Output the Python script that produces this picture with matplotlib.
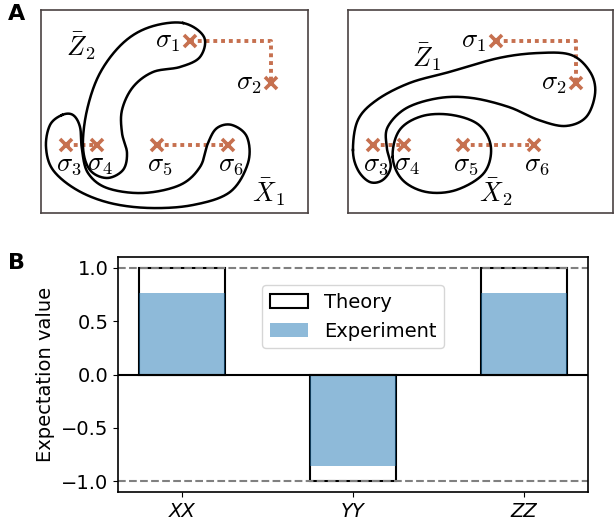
import numpy as np
import matplotlib.pyplot as plt

plt.rcParams['mathtext.fontset'] = 'cm'
plt.rcParams['font.size'] = 14

# panel B data
labels = ['XX', 'YY', 'ZZ']
theory = [1.0, -1.0, 1.0]
experiment = [0.765, -0.855, 0.765]

# panel A: qubit sites (box pixel coords, y down)
site_x = [149, 230, 25, 56, 116, 187]
site_y = [31, 73, 135, 135, 135, 135]
site_names = [r'$\sigma_1$', r'$\sigma_2$', r'$\sigma_3$',
              r'$\sigma_4$', r'$\sigma_5$', r'$\sigma_6$']

# loop outlines (control points of closed splines)
z2_loop = np.array([(142, 13), (163, 27), (159, 47), (139, 57), (112, 62),
                    (92, 77), (81, 100), (81, 123), (86, 143), (82, 160),
                    (66, 168), (49, 160), (42, 137), (46, 100), (59, 63),
                    (82, 33), (109, 17)])
x1_loop = np.array([(21, 105), (9, 115), (5, 137), (12, 160), (36, 180),
                    (69, 193), (109, 198), (152, 195), (189, 182),
                    (207, 153), (206, 127), (191, 115), (176, 118),
                    (167, 133), (159, 157), (139, 175), (102, 183),
                    (66, 178), (47, 163), (41, 140), (39, 117), (32, 105)])
z1_loop = np.array([(5, 140), (10, 110), (29, 90), (62, 73), (102, 62),
                    (152, 48), (192, 43), (225, 45), (244, 62), (249, 83),
                    (240, 107), (219, 116), (192, 110), (162, 97), (125, 88),
                    (92, 88), (59, 98), (40, 117), (39, 137), (43, 157),
                    (35, 170), (22, 172), (10, 160)])
x2_loop = np.array([(45, 147), (52, 120), (75, 106), (105, 105), (132, 115),
                    (144, 137), (137, 163), (109, 180), (79, 182), (55, 170)])

site_color = '#c6704f'
box_color = '#4a4242'


def closed_spline(pts, n=30):
    # periodic Catmull-Rom
    out = []
    m = len(pts)
    t = np.linspace(0, 1, n, endpoint=False)[:, None]
    for i in range(m):
        p0, p1, p2, p3 = pts[i-1], pts[i], pts[(i+1) % m], pts[(i+2) % m]
        seg = 0.5*((2*p1) + (-p0+p2)*t + (2*p0-5*p1+4*p2-p3)*t**2
                   + (-p0+3*p1-3*p2+p3)*t**3)
        out.append(seg)
    out = np.vstack(out)
    return np.vstack([out, out[:1]])


def draw_box(ax, loops, loop_labels):
    ax.set_xlim(0, 267)
    ax.set_ylim(203, 0)
    ax.set_xticks([])
    ax.set_yticks([])
    for s in ax.spines.values():
        s.set_color(box_color)
        s.set_linewidth(1.2)
    # dotted couplings
    ax.plot([site_x[0], site_x[1], site_x[1]],
            [site_y[0], site_y[0], site_y[1]],
            ls=(0, (1, 1)), lw=2.8, color=site_color, zorder=1)
    ax.plot(site_x[2:4], site_y[2:4], ls=(0, (1, 1)), lw=2.8,
            color=site_color, zorder=1)
    ax.plot(site_x[4:6], site_y[4:6], ls=(0, (1, 1)), lw=2.8,
            color=site_color, zorder=1)
    ax.plot(site_x, site_y, 'x', ms=9, mew=2.6, color=site_color, zorder=2)
    for i in range(6):
        if i < 2:
            ax.text(site_x[i]-10, site_y[i], site_names[i], fontsize=19,
                    ha='right', va='center')
        else:
            ax.text(site_x[i]+3, site_y[i]+19, site_names[i], fontsize=19,
                    ha='center', va='center')
    for loop in loops:
        c = closed_spline(loop.astype(float))
        ax.plot(c[:, 0], c[:, 1], '-k', lw=1.8, zorder=3)
    for (x, y, s) in loop_labels:
        ax.text(x, y, s, fontsize=19, ha='center', va='center')


fig = plt.figure(figsize=(6.14, 5.25), dpi=100)

ax1 = fig.add_axes([41/614, 1-213/525, 267/614, 203/525])
draw_box(ax1, [z2_loop, x1_loop],
         [(40, 36, r'$\bar{Z}_2$'), (227, 182, r'$\bar{X}_1$')])
ax2 = fig.add_axes([348/614, 1-213/525, 265/614, 203/525])
draw_box(ax2, [z1_loop, x2_loop],
         [(79, 47, r'$\bar{Z}_1$'), (149, 182, r'$\bar{X}_2$')])

# panel B
ax3 = fig.add_axes([118/614, 33/525, 470/614, 235/525])
x = np.arange(len(labels))
ax3.bar(x, theory, width=0.5, facecolor='white', edgecolor='black',
        lw=1.5, label='Theory')
ax3.bar(x, experiment, width=0.5, color='C0', alpha=0.5,
        label='Experiment')
ax3.axhline(0, color='k', lw=1.5)
ax3.axhline(1, color='gray', ls='--', lw=1.5)
ax3.axhline(-1, color='gray', ls='--', lw=1.5)
ax3.set_xticks(x)
ax3.set_xticklabels(labels, style='italic')
ax3.set_yticks([-1, -0.5, 0, 0.5, 1])
ax3.set_ylabel('Expectation value')
for s in ax3.spines.values():
    s.set_linewidth(1.2)
ax3.legend(loc='upper center', bbox_to_anchor=(0.5, 0.922))

fig.text(8/614, 1-4/525, 'A', fontsize=16, fontweight='bold',
         ha='left', va='top')
fig.text(8/614, 1-253/525, 'B', fontsize=16, fontweight='bold',
         ha='left', va='top')

fig.savefig('out.png', dpi=100)
